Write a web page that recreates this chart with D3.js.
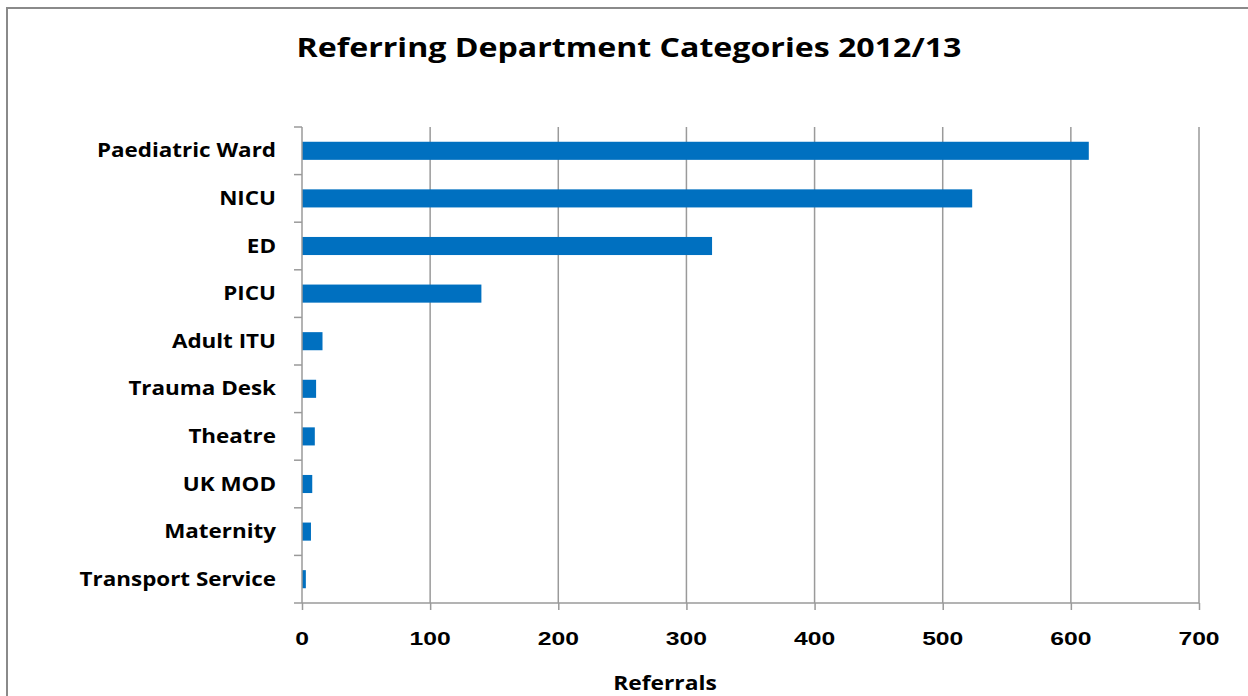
<!DOCTYPE html>
<html>
<head>
<meta charset="utf-8">
<script src="https://cdnjs.cloudflare.com/ajax/libs/d3/7.8.5/d3.min.js"></script>
<style>
  body { margin: 0; background: #fff; }
  svg { display: block; font-family: "Open Sans", sans-serif; }
</style>
</head>
<body>
<svg id="chart"></svg>
<script>
// data
var categories = ["Paediatric Ward", "NICU", "ED", "PICU", "Adult ITU",
                  "Trauma Desk", "Theatre", "UK MOD", "Maternity", "Transport Service"];
var referrals = [614, 523, 320, 140, 16, 11, 10, 8, 7, 3];
var xTicks = [0, 100, 200, 300, 400, 500, 600, 700];

var W = 1248, H = 696;
var margin = {top: 127, right: 49, bottom: 93, left: 302},
    width = W - margin.left - margin.right,
    height = H - margin.top - margin.bottom;

var svg = d3.select("#chart").attr("width", W).attr("height", H);

// the original font is wider than Open Sans, so stretch text sideways
function wideText(sel, x, y, sx, anchor) {
  return sel.append("g")
      .attr("transform", "translate(" + x + "," + y + ") scale(" + sx + ",1)")
    .append("text")
      .attr("text-anchor", anchor)
      .attr("fill", "#000")
      .style("font-weight", "bold");
}

// outer frame
svg.append("rect")
    .attr("x", 7).attr("y", 8)
    .attr("width", W + 20).attr("height", H + 20)
    .attr("fill", "none").attr("stroke", "#8a8a8a").attr("stroke-width", 2);

wideText(svg, 629, 57, 1.19, "middle")
    .style("font-size", "27px")
    .text("Referring Department Categories 2012/13");

var g = svg.append("g")
    .attr("transform", "translate(" + margin.left + "," + margin.top + ")");

var x = d3.scaleLinear().domain([0, 700]).range([0, width]);
var y = d3.scaleBand().domain(categories).range([0, height]).paddingInner(0.62).paddingOuter(0.31);

// gridlines
g.selectAll(".grid")
    .data(xTicks.slice(1))
    .enter().append("line")
    .attr("x1", function(d) { return x(d); })
    .attr("x2", function(d) { return x(d); })
    .attr("y1", 0).attr("y2", height)
    .attr("stroke", "#9a9a9a").attr("stroke-width", 1.5);

g.selectAll(".bar")
    .data(referrals)
    .enter().append("rect")
    .attr("x", 0)
    .attr("y", function(d, i) { return y(categories[i]); })
    .attr("width", function(d) { return x(d); })
    .attr("height", y.bandwidth())
    .attr("fill", "#0070C0");

// x axis
var xAxis = g.append("g")
    .attr("transform", "translate(0," + height + ")")
    .call(d3.axisBottom(x).tickValues(xTicks).tickSize(7).tickFormat(""));
xAxis.selectAll("line, path").attr("stroke", "#9a9a9a").attr("stroke-width", 1.5);
xAxis.select(".domain").attr("d", "M0,0H" + width);
xTicks.forEach(function(t) {
  wideText(xAxis, x(t), 42, 1.3, "middle")
      .style("font-size", "19px")
      .text(t);
});

// y axis: ticks on category boundaries
var yAxis = g.append("g");
yAxis.append("line")
    .attr("x1", 0).attr("x2", 0).attr("y1", 0).attr("y2", height)
    .attr("stroke", "#9a9a9a").attr("stroke-width", 1.5);
var step = y.step();
yAxis.selectAll(".tk")
    .data(d3.range(categories.length + 1))
    .enter().append("line")
    .attr("x1", -8).attr("x2", 0)
    .attr("y1", function(i) { return i * step; })
    .attr("y2", function(i) { return i * step; })
    .attr("stroke", "#9a9a9a").attr("stroke-width", 1.5);
categories.forEach(function(c) {
  wideText(yAxis, -26, y(c) + y.bandwidth() / 2, 1.18, "end")
      .attr("dy", "0.35em")
      .style("font-size", "19px")
      .text(c);
});

wideText(svg, 665, 690, 1.2, "middle")
    .style("font-size", "19px")
    .text("Referrals");
</script>
</body>
</html>
